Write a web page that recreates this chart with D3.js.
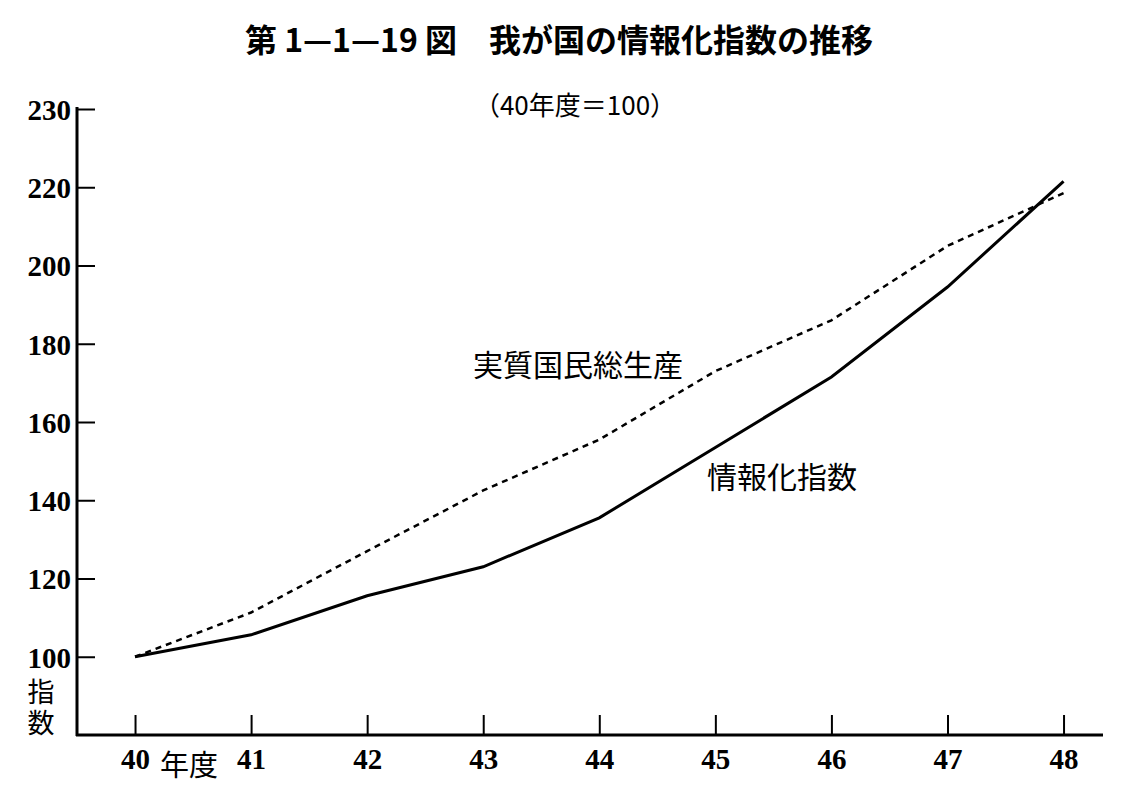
<!DOCTYPE html>
<html><head><meta charset="utf-8">
<script src="https://cdn.jsdelivr.net/npm/d3@7"></script>
<style>
html,body{margin:0;padding:0;background:#fff;}
svg{display:block;}
</style></head>
<body>
<svg id="chart" width="1145" height="789"></svg>
<script>
const years = [40, 41, 42, 43, 44, 45, 46, 47, 48];
const infoIndex = [100, 105.6, 115.6, 123, 135.5, 153.5, 171.5, 194.5, 221.5];
const realGNP = [100, 111.3, 127, 142.5, 155.5, 173, 186, 205, 218.5];
const yTickValues = [100, 120, 140, 160, 180, 200, 220, 240];
const yTickLabels = ["100", "120", "140", "160", "180", "200", "220", "230"];
const xTickLabels = ["40", "41", "42", "43", "44", "45", "46", "47", "48"];
const title = "第 1—1—19 図　我が国の情報化指数の推移";
const subtitle = "（40年度＝100）";
const seriesNames = ["情報化指数", "実質国民総生産"];

const svg = d3.select("#chart");
const jp = "'Noto Sans CJK JP', sans-serif";
const num = "'Liberation Serif', 'DejaVu Serif', serif";

const x = d3.scaleLinear().domain([39.5, 48.34]).range([77, 1103]);
const y = d3.scaleLinear().domain([80, 240]).range([735, 109]);

// title
svg.append("text").attr("x", 559).attr("y", 52).attr("text-anchor", "middle")
  .attr("font-family", jp).attr("font-weight", 700).attr("font-size", 32)
  .attr("fill", "#000").text(title);
svg.append("text").attr("x", 575).attr("y", 115).attr("text-anchor", "middle")
  .attr("font-family", jp).attr("font-size", 26).attr("fill", "#000").text(subtitle);

// y axis
const yAxis = d3.axisRight(y).tickValues(yTickValues).tickSize(18)
  .tickFormat((d, i) => yTickLabels[i]);
const gy = svg.append("g").attr("transform", `translate(${x(39.5)},0)`).call(yAxis);
gy.select(".domain").remove();
gy.selectAll(".tick line").attr("stroke", "#000").attr("stroke-width", 2);
gy.selectAll(".tick text").attr("x", -6).attr("text-anchor", "end").attr("dy", "0.36em")
  .attr("font-family", num).attr("font-weight", 700).attr("font-size", 29).attr("fill", "#000");
svg.append("line").attr("x1", x(39.5)).attr("x2", x(39.5)).attr("y1", y(240) - 2).attr("y2", y(80) + 1)
  .attr("stroke", "#000").attr("stroke-width", 3);

// x axis
const xAxis = d3.axisTop(x).tickValues(years).tickSize(20).tickFormat((d, i) => xTickLabels[i]);
const gx = svg.append("g").attr("transform", `translate(0,${y(80)})`).call(xAxis);
gx.select(".domain").remove();
gx.selectAll(".tick line").attr("stroke", "#000").attr("stroke-width", 2);
gx.selectAll(".tick text").attr("y", 34).attr("dy", 0)
  .attr("font-family", num).attr("font-weight", 700).attr("font-size", 29).attr("fill", "#000");
svg.append("line").attr("x1", x(39.5) - 1).attr("x2", x(48.34)).attr("y1", y(80)).attr("y2", y(80))
  .attr("stroke", "#000").attr("stroke-width", 3);

// axis unit labels
svg.append("text").attr("x", 189).attr("y", 776).attr("text-anchor", "middle")
  .attr("font-family", jp).attr("font-size", 29).attr("fill", "#000").text("年度");
svg.append("text").attr("x", 41).attr("y", 678)
  .attr("writing-mode", "vertical-rl").attr("text-anchor", "start")
  .attr("font-family", jp).attr("font-size", 27).attr("letter-spacing", 4)
  .attr("fill", "#000").text("指数");

// lines
const line = d3.line().x((d, i) => x(years[i])).y(d => y(d)).curve(d3.curveLinear);
svg.append("path").datum(realGNP).attr("d", line).attr("fill", "none")
  .attr("stroke", "#000").attr("stroke-width", 2.5).attr("stroke-dasharray", "6,5");
svg.append("path").datum(infoIndex).attr("d", line).attr("fill", "none")
  .attr("stroke", "#000").attr("stroke-width", 3);

// series labels
svg.append("text").attr("x", 578).attr("y", 376).attr("text-anchor", "middle")
  .attr("font-family", jp).attr("font-size", 30).attr("fill", "#000").text(seriesNames[1]);
svg.append("text").attr("x", 782).attr("y", 488).attr("text-anchor", "middle")
  .attr("font-family", jp).attr("font-size", 30).attr("fill", "#000").text(seriesNames[0]);
</script>
</body></html>
